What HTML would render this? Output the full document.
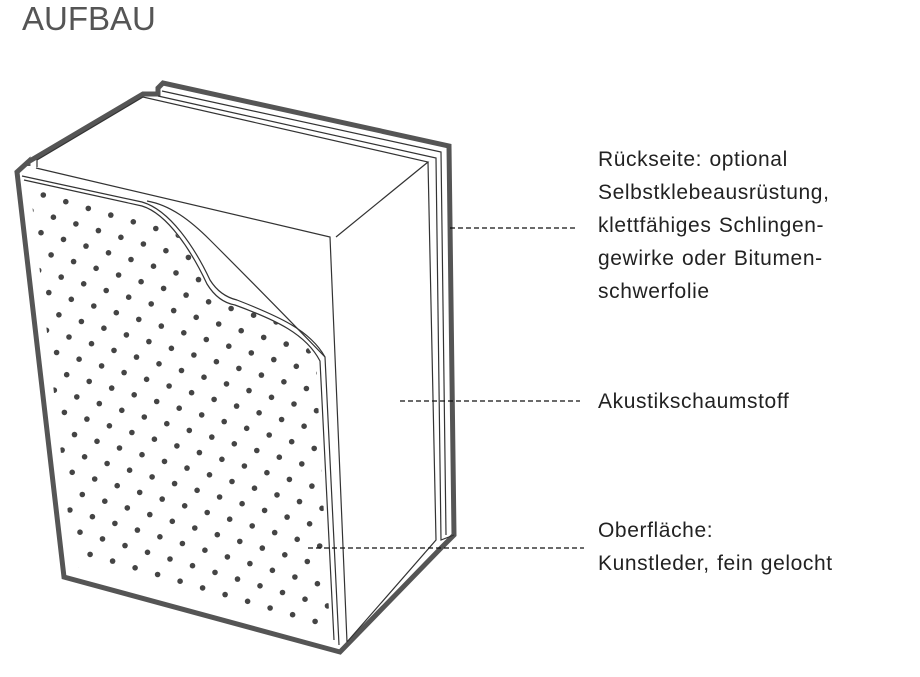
<!DOCTYPE html>
<html><head><meta charset="utf-8"><style>
body{margin:0;background:#fff;width:920px;height:677px;overflow:hidden;font-family:"Liberation Sans",sans-serif}
.t{position:absolute;left:22px;top:0px;font-size:33px;color:#555;letter-spacing:0px}
.l{position:absolute;left:598px;font-size:21px;color:#222;line-height:33px;letter-spacing:0.6px;word-spacing:1px}
</style></head><body>
<div class="t">AUFBAU</div>
<svg width="920" height="677" style="position:absolute;left:0;top:0">
<defs>
<clipPath id="fc"><path d="M30,186 L142,208 C168,216 192,252 207,284 Q218,302 235,305 C276,320 304,334 316,361 L330,630 L74,566 Z"/></clipPath>
</defs>
<path d="M17,172 L28,162 L28,166 M28,162 L143,94 L158,94 L158,88 L163,83 L449,146 L454,535 L442,547 L340,652 L64,577 L17,172 Z" fill="none" stroke="#555" stroke-width="5" stroke-linejoin="miter"/>
<g fill="none" stroke="#333" stroke-width="1.2">
<path d="M162,91 L441,152 L446,535"/>
<path d="M158,96 L436,158 L441,540 L454,535"/>
<path d="M37,167 L37,160 L143,97 L428,162 L336,237"/>
<path d="M36,168 L330,237 L347,642"/>
<path d="M428,162 L436,540 L347,642"/>
<path d="M22,176 L142,202 C170,210 195,248 210,280 Q220,296 237,300 C278,316 310,330 325,357 L339,645"/>
<path d="M24,180 L142,206 C168,214 192,252 207,284 Q218,302 235,305 C276,320 306,334 320,361 L334,640"/>
<path d="M147,201 C170,205 190,220 210,240 Q270,300 325,357"/>
</g>
<g id="dots" fill="#444" clip-path="url(#fc)"></g>
<g stroke="#111" stroke-width="1.3" stroke-dasharray="5,3">
<line x1="450" y1="228" x2="578" y2="228"/>
<line x1="400" y1="401" x2="580" y2="401"/>
<line x1="308" y1="548" x2="584" y2="548"/>
</g>
</svg>
<div class="l" style="top:143px">Rückseite: optional<br>Selbstklebeausrüstung,<br>klettfähiges Schlingen-<br>gewirke oder Bitumen-<br>schwerfolie</div>
<div class="l" style="top:385px">Akustikschaumstoff</div>
<div class="l" style="top:514px">Oberfläche:<br>Kunstleder, fein gelocht</div>
<script>
var g=document.getElementById('dots'),s='';
var ox=43.3,oy=195,ax=22.5,ay=6.7,bx=-12.4,by=15.5;
for(var i=-20;i<30;i++)for(var j=-5;j<40;j++){
var x=ox+i*ax+j*bx,y=oy+i*ay+j*by;
if(x<-10||x>400||y<150||y>680)continue;
s+='<circle cx="'+x.toFixed(1)+'" cy="'+y.toFixed(1)+'" r="2.8"/>';}
g.innerHTML=s;
</script>
</body></html>
